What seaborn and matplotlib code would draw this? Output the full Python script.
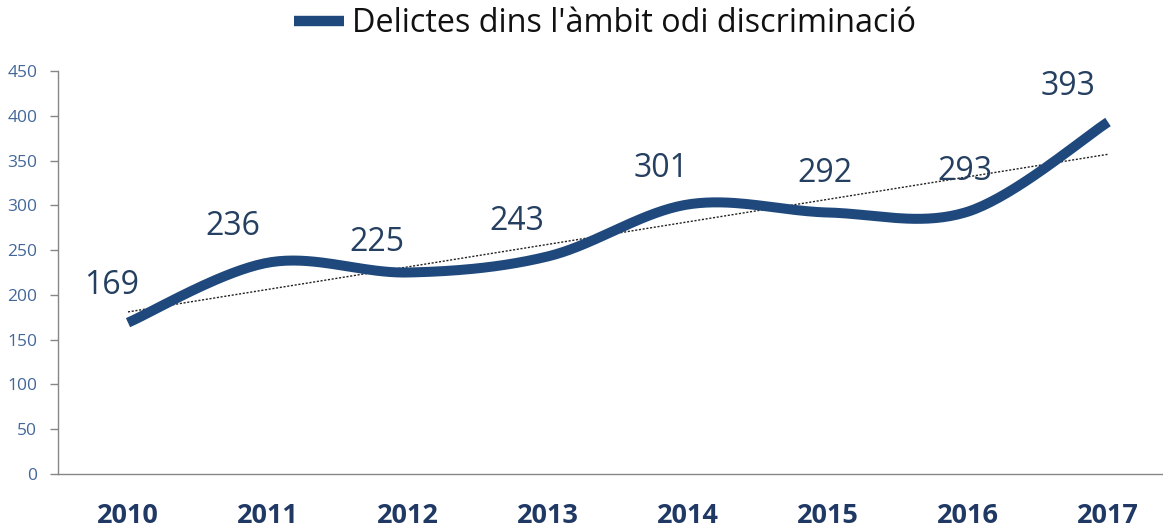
import numpy as np
import pandas as pd
import matplotlib
matplotlib.use("Agg")
import matplotlib.pyplot as plt
import seaborn as sns
from matplotlib.ticker import FixedLocator

# Data
years = ["2010", "2011", "2012", "2013", "2014", "2015", "2016", "2017"]
delictes = [169, 236, 225, 243, 301, 292, 293, 393]
series_name = "Delictes dins l'àmbit odi discriminació"
y_ticks = [0, 50, 100, 150, 200, 250, 300, 350, 400, 450]

# Placement of each value label relative to its point (pixels: right, up)
label_offsets = [(-16, 37), (-35, 36), (-31, 30), (-31, 35),
                 (-27, 36), (-3, 39), (-3, 40), (-40, 36)]

line_color = "#1F497D"
label_color = "#243F60"
tick_color = "#44679A"
axis_color = "#868686"

sns.set_theme(style="white")
plt.rcParams["font.family"] = ["Open Sans", "DejaVu Sans"]

x_idx = np.arange(len(years), dtype=float)
y_val = np.array(delictes, dtype=float)


def smooth_curve(x, y, n=40):
    """Cubic Bezier smoothing through the points (Catmull-Rom style tangents)."""
    pts = np.column_stack([x, y])
    out = [pts[0]]
    for i in range(len(pts) - 1):
        p0 = pts[i - 1] if i > 0 else pts[i]
        p1 = pts[i]
        p2 = pts[i + 1]
        p3 = pts[i + 2] if i + 2 < len(pts) else pts[i + 1]
        c1 = p1 + (p2 - p0) / 6.0
        c2 = p2 - (p3 - p1) / 6.0
        t = np.linspace(0, 1, n)[1:, None]
        seg = ((1 - t) ** 3) * p1 + 3 * ((1 - t) ** 2) * t * c1 + 3 * (1 - t) * t ** 2 * c2 + t ** 3 * p2
        out.extend(seg)
    out = np.array(out)
    return out[:, 0], out[:, 1]


sx, sy = smooth_curve(x_idx, y_val)
curve = pd.DataFrame({"x": sx, "y": sy, "serie": series_name})
points = pd.DataFrame({"x": x_idx, "y": y_val})

fig = plt.figure(figsize=(11.63, 5.29), dpi=100)
ax = fig.add_axes([58 / 1163, 1 - 474 / 529, 1120 / 1163, 403 / 529])

# linear trend line
sns.regplot(data=points, x="x", y="y", ax=ax, scatter=False, ci=None, truncate=True,
            line_kws=dict(color="#222222", lw=1.0, linestyle=(0, (1.5, 1.2))))

# smoothed series
sns.lineplot(data=curve, x="x", y="y", hue="serie", palette=[line_color], sort=False,
             lw=7.2, ax=ax, solid_capstyle="butt")

# value labels
for xi, yi, (dx, dy) in zip(x_idx, delictes, label_offsets):
    ax.annotate(f"{yi}", (xi, yi), xytext=(dx, dy), textcoords="offset pixels",
                ha="center", va="center", fontsize=23, color=label_color)

ax.set_xlim(-0.5, len(years) - 0.5)
ax.set_ylim(0, 450)
ax.yaxis.set_major_locator(FixedLocator(y_ticks))
ax.set_xticks(x_idx)
ax.set_xticklabels(years, fontsize=19.5, fontweight="bold", color="#1F3864")
ax.xaxis.set_minor_locator(FixedLocator(np.arange(-0.5, len(years), 1.0)))
ax.tick_params(axis="x", which="major", length=0, pad=21)
ax.tick_params(axis="x", which="minor", length=10, width=1, color=axis_color, direction="out")
ax.tick_params(axis="y", which="major", length=6, width=1, color=axis_color, direction="out",
               labelsize=12.5, labelcolor=tick_color, pad=9, left=True)
ax.set_xlabel("")
ax.set_ylabel("")
for side in ["top", "right"]:
    ax.spines[side].set_visible(False)
for side in ["left", "bottom"]:
    ax.spines[side].set_color(axis_color)
    ax.spines[side].set_linewidth(1)
ax.grid(False)

leg = ax.legend(loc="center", bbox_to_anchor=(605 / 1163, 1 - 24 / 529),
                bbox_transform=fig.transFigure, frameon=False, fontsize=23.3,
                handlelength=1.55, handletextpad=0.25)
for h in leg.get_lines():
    h.set_linewidth(7.5)
for t in leg.get_texts():
    t.set_color("#111111")

fig.savefig("out.png", dpi=100)
